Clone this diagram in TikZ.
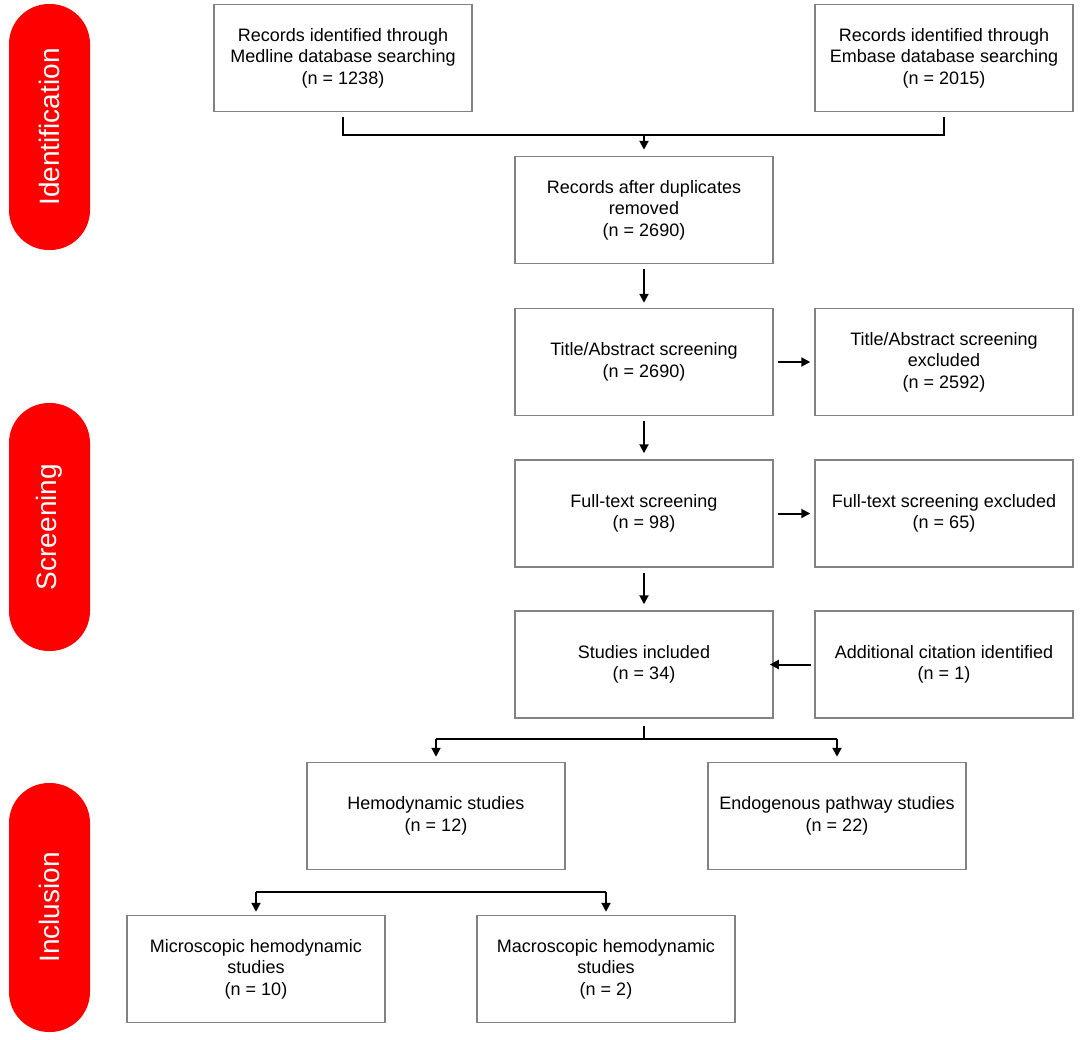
\documentclass[tikz,border=0pt]{standalone}
\usepackage{fontspec}
\setmainfont{Liberation Sans}
\usetikzlibrary{arrows.meta}
\definecolor{pillred}{RGB}{255,0,0}
\definecolor{boxgray}{RGB}{130,130,130}
\tikzset{
  box/.style={draw=boxgray, line width=1.5pt, minimum width=258pt, minimum height=107pt,
    align=center, inner sep=0pt, font=\fontsize{18}{21.6}\selectfont},
  pill/.style={fill=pillred, rounded corners=40pt},
  pilltext/.style={text=white, rotate=90, font=\fontsize{28}{32}\selectfont},
  conn/.style={line width=2pt, black},
  arr/.style={conn, -{Triangle[length=9pt,width=9pt]}},
}
\begin{document}
\begin{tikzpicture}[x=1pt,y=-1pt]
\useasboundingbox (0,0) rectangle (1084,1039);
% phase pills
\fill[pill] (9,4) rectangle (90,250);
\node[pilltext] (pid) at (49.5,127) {Identification};
\fill[pill] (9,403) rectangle (90,651);
\node[pilltext] (psc) at (49.5,527) {Screening};
\fill[pill] (9,783) rectangle (90,1032);
\node[pilltext] (pin) at (49.5,907.5) {Inclusion};
% boxes
\node[box] (med) at (343,58) {Records identified through\\Medline database searching\\(n = 1238)};
\node[box] (emb) at (944,58) {Records identified through\\Embase database searching\\(n = 2015)};
\node[box] (dup) at (644,210) {Records after duplicates\\removed\\(n = 2690)};
\node[box] (ta) at (644,362) {Title/Abstract screening\\(n = 2690)};
\node[box] (tax) at (944,362) {Title/Abstract screening\\excluded\\(n = 2592)};
\node[box] (ft) at (644,513.5) {Full-text screening\\(n = 98)};
\node[box] (ftx) at (944,513.5) {Full-text screening excluded\\(n = 65)};
\node[box] (inc) at (644,664.5) {Studies included\\(n = 34)};
\node[box] (add) at (944,664.5) {Additional citation identified\\(n = 1)};
\node[box] (hem) at (436,816) {Hemodynamic studies\\(n = 12)};
\node[box] (endo) at (837,816) {Endogenous pathway studies\\(n = 22)};
\node[box] (mic) at (256,969) {Microscopic hemodynamic\\studies\\(n = 10)};
\node[box] (mac) at (606,969) {Macroscopic hemodynamic\\studies\\(n = 2)};
% connectors: merge from databases
\coordinate (j1) at (644,135);
\draw[conn] ([yshift=-5pt]med.south) -- (med.south |- j1) -- (emb.south |- j1) -- ([yshift=-5pt]emb.south);
\draw[arr] (j1) -- ([yshift=6pt]dup.north);
% main chain
\draw[arr] ([yshift=-5pt]dup.south) -- ([yshift=5pt]ta.north);
\draw[arr] ([yshift=-5pt]ta.south) -- ([yshift=6pt]ft.north);
\draw[arr] ([yshift=-5pt]ft.south) -- ([yshift=6pt]inc.north);
% side arrows
\draw[arr] ([xshift=4pt]ta.east) -- ([xshift=-4pt]tax.west);
\draw[arr] ([xshift=4pt]ft.east) -- ([xshift=-4pt]ftx.west);
\draw[arr] ([xshift=-3pt]add.west) -- ([xshift=-4pt]inc.east);
% split to hemodynamic / endogenous
\coordinate (j2) at (644,739);
\draw[conn] ([yshift=-7pt]inc.south) -- (j2);
\draw[conn] (hem.north |- j2) -- (endo.north |- j2);
\draw[arr] (hem.north |- j2) -- ([yshift=5pt]hem.north);
\draw[arr] (endo.north |- j2) -- ([yshift=5pt]endo.north);
% split to micro / macro
\coordinate (j3) at (436,892);
\draw[conn] (mic.north |- j3) -- (mac.north |- j3);
\draw[arr] (mic.north |- j3) -- ([yshift=3pt]mic.north);
\draw[arr] (mac.north |- j3) -- ([yshift=3pt]mac.north);
\end{tikzpicture}
\end{document}
